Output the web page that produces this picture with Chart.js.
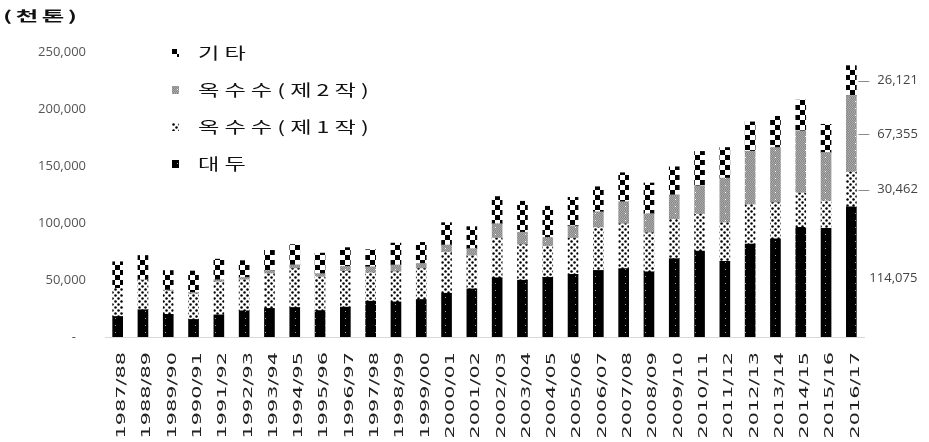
<!DOCTYPE html>
<html>
<head>
<meta charset="utf-8">
<script src="https://cdn.jsdelivr.net/npm/chart.js@4"></script>
<style>
  html, body { margin: 0; padding: 0; background: #fff; }
  #wrap { position: relative; width: 929px; height: 442px; }
</style>
</head>
<body>
<div id="wrap"><canvas id="c" width="929" height="442"></canvas></div>
<script>
// Crop years
const seasons = [
  '1987/88','1988/89','1989/90','1990/91','1991/92','1992/93','1993/94','1994/95',
  '1995/96','1996/97','1997/98','1998/99','1999/00','2000/01','2001/02','2002/03',
  '2003/04','2004/05','2005/06','2006/07','2007/08','2008/09','2009/10','2010/11',
  '2011/12','2012/13','2013/14','2014/15','2015/16','2016/17'
];

// Production, thousand tonnes
const soybean = [
  18000, 23900, 19900, 15400, 19400, 23000, 25100, 25900,
  23200, 26200, 31400, 30800, 32900, 38400, 42200, 52000,
  49800, 52300, 55000, 58400, 60000, 57200, 68700, 75300,
  66400, 81500, 86100, 96200, 95400, 114075
];
const cornFirst = [
  24700, 25700, 20500, 22500, 29000, 27100, 30400, 34100,
  29400, 31400, 24900, 26400, 27100, 36100, 29000, 34700,
  31100, 27400, 31600, 37600, 39200, 34200, 34500, 32400,
  33900, 34600, 31700, 30100, 24000, 30462
];
const cornSecond = [
  0, 600, 800, 1200, 1800, 2100, 2800, 3300,
  3000, 4300, 5300, 6000, 4500, 6200, 6300, 12700,
  11000, 7600, 10900, 13800, 19500, 16800, 21500, 25000,
  39100, 46900, 48400, 54600, 42500, 67355
];
const others = [
  23300, 21300, 17100, 18800, 18100, 14800, 17700, 17800,
  18000, 16500, 15000, 19200, 18500, 19600, 19300, 23800,
  27200, 27400, 25000, 22000, 25400, 26900, 24600, 30100,
  26800, 25700, 27400, 26900, 24700, 26121
];

const seriesNames = ['대두', '옥수수(제1작)', '옥수수(제2작)', '기타'];
const unitLabel = '(천톤)';
const yMax = 250000;
const yStep = 50000;

// Monochrome fill textures for the four series
function makeTile(w, h, paint) {
  const c = document.createElement('canvas');
  c.width = w; c.height = h;
  const g = c.getContext('2d');
  paint(g, w, h);
  return document.getElementById('c').getContext('2d').createPattern(c, 'repeat');
}
const soyFill = makeTile(10, 7, (g, w, h) => {
  g.fillStyle = '#000'; g.fillRect(0, 0, w, h);
  g.fillStyle = '#9a9a9a'; g.fillRect(5, 3, 1, 1);
});
const corn1Fill = makeTile(6, 6, (g, w, h) => {
  g.fillStyle = '#fff'; g.fillRect(0, 0, w, h);
  g.fillStyle = '#000';
  g.beginPath(); g.arc(1.5, 1.5, 1.25, 0, Math.PI * 2); g.fill();
  g.beginPath(); g.arc(4.5, 4.5, 1.25, 0, Math.PI * 2); g.fill();
});
const corn2Fill = makeTile(10, 7, (g, w, h) => {
  g.fillStyle = '#8a8a8a'; g.fillRect(0, 0, w, h);
  g.fillStyle = '#a8a8a8';
  for (let y = 0; y < h; y++) for (let x = 0; x < w; x++) if ((x + y) % 2 === 0) g.fillRect(x, y, 1, 1);
  g.fillStyle = '#fff'; g.fillRect(5, 3, 1, 1);
});
const otherFill = makeTile(10, 10, (g, w, h) => {
  g.fillStyle = '#fff'; g.fillRect(0, 0, w, h);
  g.fillStyle = '#000';
  g.fillRect(0, 0, 5, 5); g.fillRect(5, 5, 5, 5);
});

const fills = [soyFill, corn1Fill, corn2Fill, otherFill];
const values = [soybean, cornFirst, cornSecond, others];

// Rotated season labels under each bar
const seasonLabels = {
  id: 'seasonLabels',
  afterDraw(chart) {
    const { ctx, scales: { x }, chartArea } = chart;
    ctx.save();
    ctx.fillStyle = '#222';
    ctx.font = '13px "DejaVu Sans"';
    ctx.textAlign = 'right';
    ctx.textBaseline = 'middle';
    x.ticks.forEach((t, i) => {
      ctx.save();
      ctx.translate(x.getPixelForTick(i) + 4, chartArea.bottom + 15);
      ctx.rotate(-Math.PI / 2);
      ctx.scale(1.6, 1);
      ctx.fillText(x.getLabelForValue(t.value), 0, 0);
      ctx.restore();
    });
    ctx.restore();
  }
};

// Vertical legend (top series first), unit caption
const legendBox = {
  id: 'legendBox',
  afterDraw(chart) {
    const { ctx } = chart;
    const ds = chart.data.datasets;
    ctx.save();
    ctx.fillStyle = '#111';
    ctx.font = 'bold 14px "Noto Sans CJK KR"';
    ctx.textBaseline = 'middle';
    ctx.letterSpacing = '2px';
    ctx.save();
    ctx.translate(3, 16);
    ctx.scale(1.75, 1);
    ctx.fillText(unitLabel, 0, 0);
    ctx.restore();

    ctx.font = '16px "Noto Sans CJK KR"';
    ctx.letterSpacing = '3.5px';
    for (let i = 0; i < ds.length; i++) {
      const d = ds[ds.length - 1 - i];
      const cy = 53 + i * 37;
      ctx.save();
      ctx.translate(172, cy - 4);
      ctx.fillStyle = d.backgroundColor;
      ctx.fillRect(0, 0, 7, 8);
      ctx.restore();
      ctx.save();
      ctx.translate(198, cy);
      ctx.scale(1.45, 1);
      ctx.fillStyle = '#111';
      ctx.fillText(d.label, 0, 0);
      ctx.restore();
    }
    ctx.restore();
  }
};

// Values of the last season, beside its stacked segments
const lastBarValues = {
  id: 'lastBarValues',
  afterDraw(chart) {
    const { ctx, scales: { y } } = chart;
    const n = seasons.length - 1;
    let cum = 0;
    ctx.save();
    ctx.font = '13px "Open Sans"';
    ctx.fillStyle = '#444';
    ctx.strokeStyle = '#8c8c8c';
    ctx.lineWidth = 1;
    ctx.textBaseline = 'middle';
    chart.data.datasets.forEach((d, di) => {
      const v = d.data[n];
      const py = y.getPixelForValue(cum + v / 2);
      const bar = chart.getDatasetMeta(di).data[n];
      const right = bar.x + bar.width / 2;
      cum += v;
      if (di === 0) {
        ctx.fillText(v.toLocaleString('en-US'), right + 13, py + 6);
        return;
      }
      ctx.beginPath();
      ctx.moveTo(right + 2, Math.round(py) + 0.5);
      ctx.lineTo(right + 13, Math.round(py) + 0.5);
      ctx.stroke();
      ctx.fillText(v.toLocaleString('en-US'), right + 21, py);
    });
    ctx.restore();
  }
};

new Chart(document.getElementById('c'), {
  type: 'bar',
  data: {
    labels: seasons,
    datasets: seriesNames.map((name, i) => ({
      label: name,
      data: values[i],
      backgroundColor: fills[i],
      borderWidth: 0,
      barThickness: 10
    }))
  },
  options: {
    responsive: false,
    animation: false,
    devicePixelRatio: 1,
    layout: { padding: { top: 52, right: 65, left: 0, bottom: 0 } },
    plugins: { legend: { display: false }, tooltip: { enabled: false } },
    scales: {
      x: {
        stacked: true,
        grid: { display: false, drawTicks: false },
        border: { display: true, color: '#d9d9d9' },
        ticks: { display: false },
        afterFit: s => { s.height = 105; }
      },
      y: {
        stacked: true,
        min: 0,
        max: yMax,
        grid: { display: false, drawTicks: false },
        border: { display: false },
        ticks: {
          stepSize: yStep,
          padding: 19,
          color: '#555',
          font: { family: '"Open Sans"', size: 13 },
          callback: v => v === 0 ? '-   ' : v.toLocaleString('en-US')
        },
        afterFit: s => { s.width = 105; }
      }
    }
  },
  plugins: [seasonLabels, legendBox, lastBarValues]
});
</script>
</body>
</html>
